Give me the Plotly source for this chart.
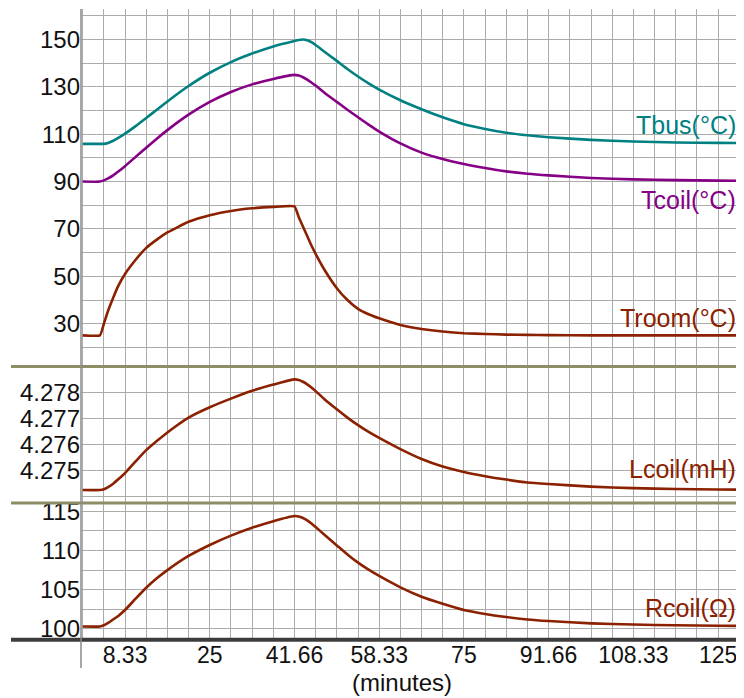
import plotly.graph_objects as go
from plotly.subplots import make_subplots

# ---- data ----
time_min = [0, 3.4, 4.17, 5, 6, 7, 8.33, 10.42, 12.5, 14.58, 16.67, 20.83, 25, 29.17,
            33.33, 37.5, 41.66, 42.5, 43.33, 44.17, 45, 45.83, 47.5, 50, 52.08, 54.17,
            56.25, 58.33, 62.5, 66.67, 70.83, 75, 79.17, 83.33, 87.5, 91.66, 100,
            108.33, 116.67, 125, 131]

t_bus = [105.9, 105.9, 105.9, 106.3, 107.2, 108.4, 110.2, 113.4, 116.8, 120.3, 123.8,
         130.3, 135.9, 140.4, 144.0, 147.0, 149.3, 149.7, 149.9, 149.6, 148.8, 147.6,
         144.9, 140.9, 137.5, 134.3, 131.4, 128.8, 124.3, 120.5, 117.1, 114.2, 112.2,
         110.6, 109.5, 108.7, 107.6, 106.9, 106.5, 106.3, 106.2]

t_coil = [90.0, 90.0, 90.5, 91.3, 92.6, 94.2, 96.5, 100.4, 104.3, 108.1, 111.7, 118.2,
          123.6, 127.8, 131.0, 133.3, 135.0, 134.7, 134.0, 133.0, 131.8, 130.5, 127.6,
          123.6, 120.3, 117.1, 114.0, 111.1, 106.1, 102.2, 99.5, 97.4, 95.7, 94.3, 93.3,
          92.6, 91.5, 90.9, 90.6, 90.4, 90.3]

t_room = [25.1, 25.1, 30.0, 35.5, 41.0, 46.0, 51.0, 57.0, 62.0, 65.5, 68.5, 73.0, 75.8,
          77.6, 78.7, 79.3, 79.5, 75.0, 71.0, 67.0, 63.0, 59.5, 53.0, 45.0, 40.0, 36.3,
          34.0, 32.3, 29.5, 27.8, 26.7, 26.0, 25.7, 25.4, 25.3, 25.2, 25.1, 25.1, 25.1,
          25.1, 25.1]

l_coil = [4.27425, 4.27425, 4.27428, 4.27436, 4.27449, 4.27466, 4.27490, 4.27535,
          4.27578, 4.27613, 4.27646, 4.27703, 4.27743, 4.27776, 4.27806, 4.27830,
          4.27850, 4.27848, 4.27841, 4.27831, 4.27819, 4.27805, 4.27775, 4.27735,
          4.27703, 4.27674, 4.27648, 4.27625, 4.27582, 4.27544, 4.27515, 4.27494,
          4.27478, 4.27465, 4.27454, 4.27448, 4.27438, 4.27432, 4.27429, 4.27427,
          4.27426]

r_coil = [100.3, 100.3, 100.45, 100.75, 101.2, 101.65, 102.4, 103.85, 105.25, 106.45,
          107.5, 109.3, 110.7, 111.9, 112.9, 113.75, 114.4, 114.35, 114.15, 113.85,
          113.45, 113.0, 112.05, 110.65, 109.5, 108.45, 107.55, 106.75, 105.3, 104.1,
          103.2, 102.4, 101.9, 101.5, 101.2, 101.0, 100.7, 100.55, 100.45, 100.4, 100.35]

x_tick_vals = [8.333, 25, 41.667, 58.333, 75, 91.667, 108.333, 125]
x_tick_text = ["8.33", "25", "41.66", "58.33", "75", "91.66", "108.33", "125"]
temp_ticks = [30, 50, 70, 90, 110, 130, 150]
l_ticks = [4.275, 4.276, 4.277, 4.278]
l_tick_text = ["4.275", "4.276", "4.277", "4.278"]
r_ticks = [100, 105, 110, 115]

# ---- styling ----
TEAL = "#008080"
PURPLE = "#850085"
RUST = "#8b2100"
GRID = "#ababab"
OLIVE = "#8e8e66"
FONT = "Arial, Liberation Sans, sans-serif"

fig = make_subplots(rows=3, cols=1, shared_xaxes=True, vertical_spacing=0,
                    row_heights=[0.5673, 0.2168, 0.2159])

line_kw = dict(mode="lines", line_shape="spline", showlegend=False, hoverinfo="skip")
fig.add_trace(go.Scatter(x=time_min, y=t_bus, line=dict(color=TEAL, width=2.6, smoothing=0.6), **line_kw), row=1, col=1)
fig.add_trace(go.Scatter(x=time_min, y=t_coil, line=dict(color=PURPLE, width=2.6, smoothing=0.6), **line_kw), row=1, col=1)
fig.add_trace(go.Scatter(x=time_min, y=t_room, line=dict(color=RUST, width=2.6, smoothing=0.4), **line_kw), row=1, col=1)
fig.add_trace(go.Scatter(x=time_min, y=l_coil, line=dict(color=RUST, width=2.6, smoothing=0.6), **line_kw), row=2, col=1)
fig.add_trace(go.Scatter(x=time_min, y=r_coil, line=dict(color=RUST, width=2.6, smoothing=0.6), **line_kw), row=3, col=1)

xgrid = dict(range=[-0.33, 130.1], tickmode="array", tickvals=x_tick_vals, ticktext=x_tick_text,
             showgrid=True, gridcolor=GRID, gridwidth=1, zeroline=False, showline=False,
             ticks="", automargin=False, tickfont=dict(family=FONT, size=23, color="#111"),
             minor=dict(tick0=0, dtick=25 / 6, showgrid=True, gridcolor=GRID, gridwidth=1))
for r in (1, 2, 3):
    fig.update_xaxes(row=r, col=1, **xgrid)

ycommon = dict(showgrid=True, gridcolor=GRID, gridwidth=1, zeroline=False, showline=False,
               ticks="", automargin=False, tickfont=dict(family=FONT, size=24, color="#111"))
fig.update_yaxes(row=1, col=1, range=[12.0, 162.8], tickmode="array", tickvals=temp_ticks,
                 minor=dict(tick0=0, dtick=10, showgrid=True, gridcolor=GRID, gridwidth=1), **ycommon)
fig.update_yaxes(row=2, col=1, range=[4.27375, 4.27900], tickmode="array", tickvals=l_ticks,
                 ticktext=l_tick_text,
                 minor=dict(tick0=4.274, dtick=0.001, showgrid=True, gridcolor=GRID, gridwidth=1), **ycommon)
fig.update_yaxes(row=3, col=1, range=[98.7, 116.07], tickmode="array", tickvals=r_ticks,
                 minor=dict(tick0=0, dtick=2.5, showgrid=True, gridcolor=GRID, gridwidth=1), **ycommon)

# panel separators, bottom axis bar, vertical axis line
x_left = (11 - 81) / 663
shapes = [
    dict(type="line", xref="paper", yref="paper", x0=x_left, x1=1, y0=0.4327, y1=0.4327,
         line=dict(color=OLIVE, width=3)),
    dict(type="line", xref="paper", yref="paper", x0=x_left, x1=1, y0=0.2159, y1=0.2159,
         line=dict(color=OLIVE, width=3)),
    dict(type="line", xref="paper", yref="paper", x0=x_left, x1=1, y0=-0.001, y1=-0.001,
         line=dict(color="#3c3c3c", width=4)),
    dict(type="line", xref="paper", yref="paper", x0=0, x1=0, y0=-0.046, y1=1,
         line=dict(color="#8a8a8a", width=1.5)),
]
for s in shapes:
    fig.add_shape(**s)

labels = [
    ("Tbus(°C)", 113.9, TEAL, "x", "y"),
    ("Tcoil(°C)", 82.3, PURPLE, "x", "y"),
    ("Troom(°C)", 32.6, RUST, "x", "y"),
    ("Lcoil(mH)", 4.27505, RUST, "x2", "y2"),
    ("Rcoil(Ω)", 102.7, RUST, "x3", "y3"),
]
for text, yv, col, xr, yr in labels:
    fig.add_annotation(text=text, x=128.9, y=yv, xref=xr, yref=yr, xanchor="right",
                       yanchor="middle", showarrow=False,
                       font=dict(family=FONT, size=25, color=col))

fig.add_annotation(text="(minutes)", xref="paper", yref="paper", x=(402 - 81) / 663,
                   y=-0.0698, xanchor="center", yanchor="middle", showarrow=False,
                   font=dict(family=FONT, size=24, color="#111"))

# the page body keeps an 8 px margin, so the figure is sized to fit the window
fig.update_layout(width=736, height=690, margin=dict(l=73, r=0, t=1, b=59),
                  plot_bgcolor="white", paper_bgcolor="white", showlegend=False)

fig.write_html("out.html")
